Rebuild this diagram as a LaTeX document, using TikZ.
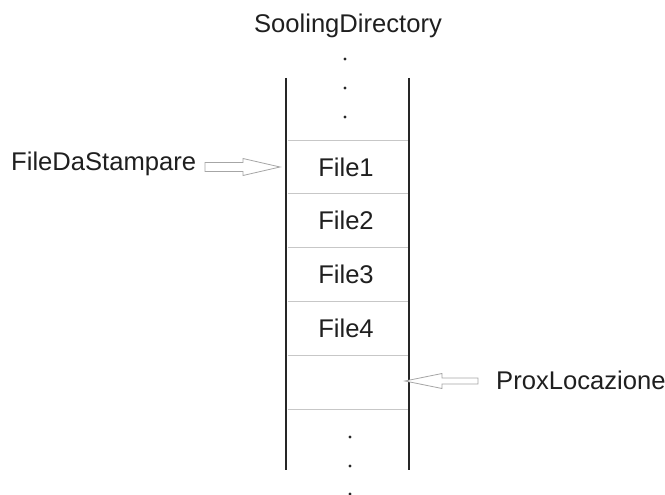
\documentclass[tikz,border=0pt]{standalone}
\usepackage{fontspec}
\setmainfont{Liberation Sans}
\begin{document}
\begin{tikzpicture}[x=1pt,y=-1pt,
  lbl/.style={inner sep=0pt,font=\fontsize{25.6}{30}\selectfont,text=black!88},
  wall/.style={line width=2.8pt,draw=black!85},
  slot/.style={line width=0.9pt,draw=black!22},
  blockarrow/.style={line width=0.8pt,draw=black!35,fill=white,line join=miter},
  dotmark/.style={fill=black!85}]
\useasboundingbox (0,0) rectangle (665,495);

% directory walls
\coordinate (tl) at (286,78);
\coordinate (bl) at (286,470);
\coordinate (tr) at (409,78);
\coordinate (br) at (409,470);
\draw[wall] (tl) -- (bl);
\draw[wall] (tr) -- (br);

% slot separators
\foreach \y in {140,193.8,247.6,301.4,355.2,409}
  \draw[slot] (287.5,\y) -- (407.5,\y);

% title and entries
\node[lbl,anchor=base] (title) at (348,33) {SoolingDirectory};
\node[lbl,anchor=base] (f1) at (346,176) {File1};
\node[lbl,anchor=base] (f2) at (346,229.8) {File2};
\node[lbl,anchor=base] (f3) at (346,283.6) {File3};
\node[lbl,anchor=base] (f4) at (346,337.4) {File4};

% continuation dots
\foreach \y in {59,88,117}
  \fill[dotmark] (345,\y) circle (1.6);
\foreach \y in {437,466,494}
  \fill[dotmark] (350,\y) circle (1.6);

% pointer labels
\node[lbl,anchor=base west] (fds) at (11,171) {FileDaStampare};
\node[lbl,anchor=base west] (prox) at (496,389) {ProxLocazione};

% hollow pointer into the first file slot
\coordinate (fdsTip) at (280,167);
\draw[blockarrow] (205,162.5) -- (243,162.5) -- (243,158.5) -- (fdsTip)
  -- (243,175.5) -- (243,171.5) -- (205,171.5) -- cycle;

% hollow pointer into the next free slot
\coordinate (proxTip) at (405,381);
\draw[blockarrow] (478,378) -- (442,378) -- (442,373.5) -- (proxTip)
  -- (442,388.5) -- (442,384) -- (478,384) -- cycle;
\end{tikzpicture}
\end{document}
